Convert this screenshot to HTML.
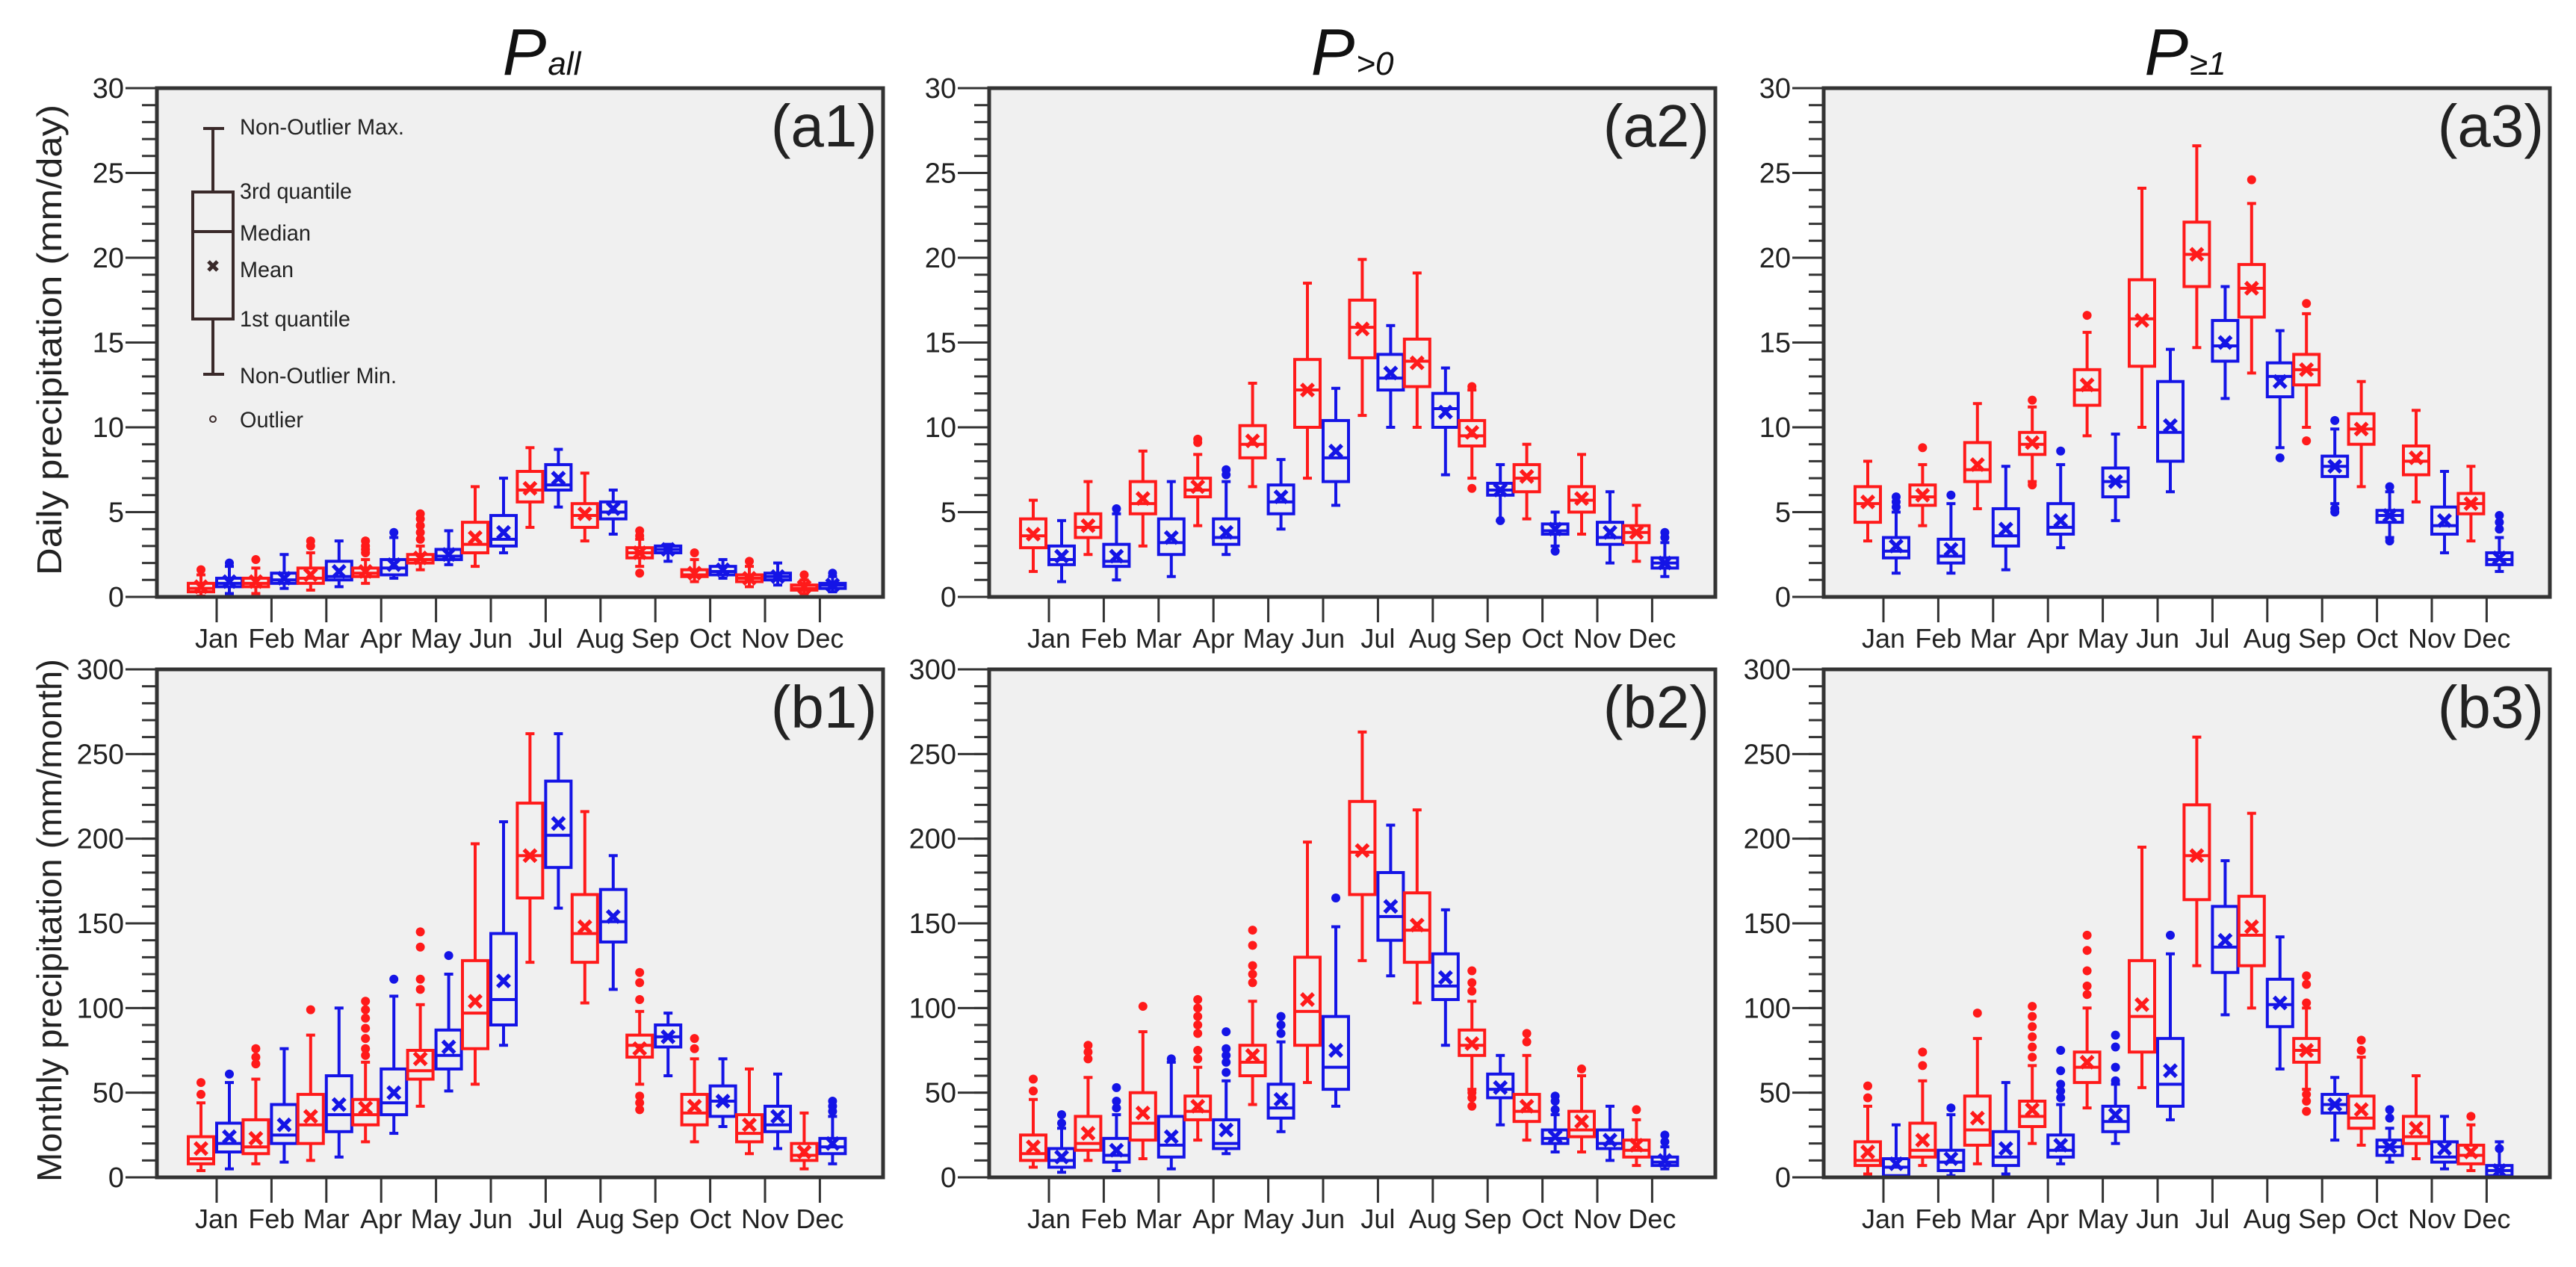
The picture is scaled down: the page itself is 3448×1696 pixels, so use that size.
<!DOCTYPE html>
<html><head><meta charset="utf-8"><style>
html,body{margin:0;padding:0;background:#fff}
svg{display:block}
text{font-family:"Liberation Sans",Arial,sans-serif}
</style></head><body>
<svg id="chart" width="3448" height="1696" viewBox="0 0 3448 1696" xmlns="http://www.w3.org/2000/svg"></svg>
<script>
const months=["Jan","Feb","Mar","Apr","May","Jun","Jul","Aug","Sep","Oct","Nov","Dec"];
const aTicks=[0,5,10,15,20,25,30];
const bTicks=[0,50,100,150,200,250,300];
// stats: [lowWhisker,q1,median,q3,highWhisker,mean]
const a1Red=[[0.05,0.3,0.5,0.8,1.3,0.6],[0.2,0.6,0.8,1.1,1.7,0.9],[0.4,0.8,1.1,1.7,2.6,1.3],[0.8,1.2,1.4,1.7,2.2,1.5],[1.6,2.0,2.2,2.5,3.0,2.3],[1.8,2.6,3.1,4.4,6.5,3.5],[4.1,5.6,6.3,7.4,8.8,6.4],[3.3,4.1,4.8,5.5,7.3,4.9],[1.8,2.3,2.6,2.9,3.4,2.6],[0.9,1.2,1.3,1.6,2.2,1.4],[0.6,0.9,1.1,1.3,1.8,1.1],[0.2,0.4,0.5,0.7,1.0,0.6]];
const a1RedOut=[[1.6],[2.2],[3.0,3.3],[2.6,2.8,3.0,3.3],[3.4,3.8,4.2,4.6,4.9],[],[],[],[1.4,3.6,3.9],[2.6],[2.1],[1.3]];
const a1Blue=[[0.2,0.6,0.8,1.1,1.8,0.9],[0.5,0.8,1.0,1.4,2.5,1.1],[0.6,1.0,1.2,2.1,3.3,1.5],[1.1,1.3,1.7,2.2,3.5,1.9],[1.9,2.2,2.4,2.8,3.9,2.5],[2.6,3.0,3.4,4.8,7.0,3.8],[5.3,6.3,6.6,7.8,8.7,7.0],[3.7,4.6,5.0,5.6,6.3,5.2],[2.1,2.6,2.8,3.0,3.1,2.8],[1.1,1.3,1.5,1.8,2.2,1.6],[0.7,1.0,1.2,1.4,2.0,1.2],[0.3,0.5,0.7,0.8,1.2,0.7]];
const a1BlueOut=[[2.0],[],[],[3.8],[],[],[],[],[],[],[],[1.4]];
const a2Red=[[1.5,2.9,3.6,4.6,5.7,3.7],[2.5,3.5,4.1,4.9,6.8,4.2],[3.0,4.9,5.5,6.8,8.6,5.8],[4.2,5.9,6.3,7.0,8.4,6.5],[6.5,8.2,9.0,10.1,12.6,9.2],[7.0,10.0,12.2,14.0,18.5,12.2],[10.7,14.1,15.9,17.5,19.9,15.8],[10.0,12.4,13.9,15.2,19.1,13.8],[7.0,8.9,9.5,10.4,12.2,9.7],[4.6,6.2,7.0,7.8,9.0,7.1],[3.7,5.0,5.7,6.5,8.4,5.8],[2.1,3.2,3.8,4.2,5.4,3.8]];
const a2RedOut=[[],[],[],[9.1,9.3],[],[],[],[],[12.4,6.4],[],[],[]];
const a2Blue=[[0.9,1.9,2.2,3.0,4.5,2.4],[1.0,1.8,2.1,3.1,4.9,2.4],[1.2,2.5,3.2,4.6,6.8,3.5],[2.5,3.1,3.5,4.6,6.8,3.8],[4.0,4.9,5.6,6.6,8.1,5.9],[5.4,6.8,8.2,10.4,12.3,8.6],[10.0,12.2,12.9,14.3,16.0,13.2],[7.2,10.0,11.1,12.0,13.5,10.9],[4.5,6.0,6.3,6.7,7.8,6.3],[3.0,3.7,3.9,4.3,5.0,4.0],[2.0,3.1,3.5,4.4,6.2,3.8],[1.2,1.7,2.0,2.3,3.2,2.0]];
const a2BlueOut=[[],[5.2],[],[7.2,7.5],[],[],[],[],[4.5],[2.7],[],[3.5,3.8]];
const a3Red=[[3.3,4.4,5.5,6.5,8.0,5.6],[4.2,5.4,5.9,6.6,7.8,6.0],[5.2,6.8,7.5,9.1,11.4,7.8],[6.8,8.4,9.0,9.7,11.2,9.1],[9.5,11.3,12.2,13.4,15.6,12.5],[10.0,13.6,16.4,18.7,24.1,16.3],[14.7,18.3,20.2,22.1,26.6,20.2],[13.2,16.5,18.2,19.6,23.2,18.2],[10.0,12.5,13.4,14.3,16.7,13.4],[6.5,9.0,9.9,10.8,12.7,9.9],[5.6,7.2,8.0,8.9,11.0,8.2],[3.3,4.9,5.5,6.1,7.7,5.5]];
const a3RedOut=[[],[8.8],[],[11.6,6.6],[16.6],[],[],[24.6],[17.3,9.2],[],[],[]];
const a3Blue=[[1.4,2.3,2.7,3.5,5.0,3.0],[1.4,2.0,2.4,3.4,5.5,2.8],[1.6,3.0,3.6,5.2,7.7,4.0],[2.9,3.7,4.1,5.5,7.8,4.5],[4.5,5.9,6.8,7.6,9.6,6.8],[6.2,8.0,9.7,12.7,14.6,10.1],[11.7,13.9,14.8,16.3,18.3,15.0],[8.8,11.8,13.0,13.8,15.7,12.7],[5.5,7.1,7.7,8.3,9.9,7.7],[3.5,4.4,4.8,5.1,6.2,4.8],[2.6,3.7,4.2,5.3,7.4,4.5],[1.5,1.9,2.2,2.6,3.5,2.3]];
const a3BlueOut=[[5.3,5.6,5.9],[6.0],[],[8.6],[],[],[],[8.2],[10.4,5.2,5.0],[6.5,3.3],[],[4.0,4.4,4.8]];
const b1Red=[[4,8,11,24,44,17],[8,14,18,34,58,23],[10,20,31,49,84,36],[21,31,37,46,68,41],[42,58,63,75,102,70],[55,76,97,128,197,104],[127,165,190,221,262,190],[103,127,144,167,216,148],[55,71,78,84,98,76],[21,31,38,49,70,42],[14,21,26,37,64,31],[5,10,13,20,38,15]];
const b1RedOut=[[49,56],[67,71,76],[99],[72,76,82,88,94,99,104],[111,117,136,145],[],[],[],[40,44,48,105,115,121],[76,82],[],[]];
const b1Blue=[[5,15,20,32,56,24],[9,20,25,43,76,31],[12,27,37,60,100,43],[26,37,44,64,107,50],[51,64,72,87,120,77],[78,90,105,144,210,116],[159,183,202,234,262,209],[111,139,151,170,190,154],[60,77,83,90,97,83],[30,36,45,54,70,45],[17,27,31,42,61,36],[8,14,18,23,36,20]];
const b1BlueOut=[[61],[],[],[117],[131],[],[],[],[],[],[],[39,42,45]];
const b2Red=[[6,10,14,25,46,18],[10,16,20,36,59,26],[11,22,32,50,86,38],[22,34,39,48,65,42],[43,60,68,78,104,72],[56,78,98,130,198,105],[128,167,192,222,263,193],[103,127,146,168,217,149],[52,72,78,87,104,79],[22,33,39,49,72,42],[15,24,28,39,60,33],[7,12,16,22,34,19]];
const b2RedOut=[[51,58],[70,74,78],[101],[70,75,85,90,95,100,105],[115,120,125,137,146],[],[],[],[42,47,50,110,115,122],[80,85],[64],[40]];
const b2Blue=[[3,6,10,17,29,12],[4,9,13,23,37,16],[5,12,19,36,68,24],[14,17,20,34,57,28],[27,35,41,55,80,46],[42,52,65,95,148,75],[119,140,154,180,208,160],[78,105,113,132,158,118],[31,47,52,61,72,53],[15,20,23,28,37,24],[10,17,20,28,42,22],[5,7,9,12,18,10]];
const b2BlueOut=[[32,37],[41,45,53],[70],[62,68,72,76,86],[85,90,95],[165],[],[],[],[40,45,48],[],[21,25]];
const b3Red=[[2,7,10,21,42,15],[7,12,16,32,57,22],[8,19,28,48,82,35],[20,30,36,45,66,40],[41,56,65,74,100,68],[53,74,95,128,195,102],[125,164,190,220,260,190],[100,125,143,166,215,148],[52,68,75,82,100,75],[19,29,35,48,71,40],[11,20,24,36,60,29],[4,8,13,19,31,15]];
const b3RedOut=[[47,54],[66,74],[97],[71,77,83,89,95,101],[108,113,122,134,143],[],[],[],[39,45,49,103,114,119],[75,81],[],[36]];
const b3Blue=[[0,1,6,11,31,8],[1,4,9,16,37,11],[2,7,12,27,56,17],[8,12,16,25,43,19],[20,27,33,42,55,37],[34,42,55,82,132,63],[96,121,136,160,187,140],[64,89,102,117,142,103],[22,38,43,49,59,43],[9,13,18,22,29,18],[5,9,12,21,36,17],[0,1,4,7,21,4]];
const b3BlueOut=[[],[41],[],[47,51,55,63,75],[57,65,77,84],[143],[],[],[],[35,40],[],[17]];

const NS="http://www.w3.org/2000/svg";
const svg=document.getElementById('chart');
function mk(tag,attrs,parent,txt){const e=document.createElementNS(NS,tag);for(const k in attrs)e.setAttribute(k,attrs[k]);if(txt!==undefined)e.textContent=txt;(parent||svg).appendChild(e);return e;}

const lefts=[210,1324,2441], W=972;
const tops=[118,896], bots=[799,1576];
const RED="#ff1a1a", BLUE="#1414e6";

const panels=[
 {id:"a1",r:0,c:0,max:30,ticks:aTicks,minor:1,red:a1Red,ro:a1RedOut,blue:a1Blue,bo:a1BlueOut},
 {id:"a2",r:0,c:1,max:30,ticks:aTicks,minor:1,red:a2Red,ro:a2RedOut,blue:a2Blue,bo:a2BlueOut},
 {id:"a3",r:0,c:2,max:30,ticks:aTicks,minor:1,red:a3Red,ro:a3RedOut,blue:a3Blue,bo:a3BlueOut},
 {id:"b1",r:1,c:0,max:300,ticks:bTicks,minor:10,red:b1Red,ro:b1RedOut,blue:b1Blue,bo:b1BlueOut},
 {id:"b2",r:1,c:1,max:300,ticks:bTicks,minor:10,red:b2Red,ro:b2RedOut,blue:b2Blue,bo:b2BlueOut},
 {id:"b3",r:1,c:2,max:300,ticks:bTicks,minor:10,red:b3Red,ro:b3RedOut,blue:b3Blue,bo:b3BlueOut}
];

function drawBox(g,cx,s,out,y,color,bw){
  const [lo,q1,md,q3,hi,mn]=s;
  const sw=4;
  let e=mk('line',{x1:cx,x2:cx,y1:y(hi),y2:y(q3),stroke:color,'stroke-width':sw},g);
  
  e=mk('line',{x1:cx,x2:cx,y1:y(q1),y2:y(lo),stroke:color,'stroke-width':sw},g);
  
  mk('line',{x1:cx-6,x2:cx+6,y1:y(hi),y2:y(hi),stroke:color,'stroke-width':sw},g);
  mk('line',{x1:cx-6,x2:cx+6,y1:y(lo),y2:y(lo),stroke:color,'stroke-width':sw},g);
  e=mk('rect',{x:cx-bw/2,y:y(q3),width:bw,height:Math.max(2,y(q1)-y(q3)),fill:'none',stroke:color,'stroke-width':sw},g);
  
  e=mk('line',{x1:cx-bw/2,x2:cx+bw/2,y1:y(md),y2:y(md),stroke:color,'stroke-width':sw},g);
  
  const my=y(mn),d=8;
  e=mk('path',{d:`M${cx-d},${my-d}L${cx+d},${my+d}M${cx+d},${my-d}L${cx-d},${my+d}`,stroke:color,'stroke-width':5.5,fill:'none'},g);
  
  out.forEach(v=>{const o=mk('circle',{cx:cx,cy:y(v),r:6,fill:color},g);
    });
}

panels.forEach(p=>{
  const L=lefts[p.c],T=tops[p.r],B=bots[p.r],R=L+W;
  const g=mk('g',{});
  
  const y=v=>B-(v/p.max)*(B-T);
  const bg=mk('rect',{x:L,y:T,width:W,height:B-T,fill:'#f0f0f0'},g);
  
  for(let v=0;v<=p.max+1e-9;v+=p.minor){mk('line',{x1:L-20,x2:L,y1:y(v),y2:y(v),stroke:'#333','stroke-width':3},g);}
  p.ticks.forEach(v=>{
    mk('line',{x1:L-42,x2:L,y1:y(v),y2:y(v),stroke:'#333','stroke-width':3},g);
    const t=mk('text',{x:L-44,y:y(v)+13,'text-anchor':'end','font-size':38,fill:'#222'},g,String(v));
    
  });
  const tx=i=>L+80+i*73.4;
  months.forEach((m,i)=>{
    mk('line',{x1:tx(i),x2:tx(i),y1:B,y2:B+34,stroke:'#333','stroke-width':3},g);
    const t=mk('text',{x:tx(i),y:B+68,'text-anchor':'middle','font-size':36,fill:'#222'},g,m);
    
  });
  months.forEach((m,i)=>{
    drawBox(g,tx(i)-21,p.red[i],p.ro[i],y,RED,34);
    drawBox(g,tx(i)+17,p.blue[i],p.bo[i],y,BLUE,34);
  });
  const fr=mk('rect',{x:L,y:T,width:W,height:B-T,fill:'none',stroke:'#333','stroke-width':5},g);
  
  const lab=mk('text',{x:R-8,y:T+78,'text-anchor':'end','font-size':80,fill:'#222'},g,'('+p.id+')');
  
});

const titles=[["all",725],[">0",1810],["≥1",2925]];
titles.forEach((t,i)=>{
  const e=mk('text',{x:t[1],y:100,'text-anchor':'middle','font-style':'italic',fill:'#111'});
  
  mk('tspan',{'font-size':88},e,'P');
  mk('tspan',{'font-size':44,dx:2},e,t[0]);
});
let yt=mk('text',{x:0,y:0,transform:'translate(82,455) rotate(-90)','text-anchor':'middle','font-size':46,fill:'#222',textLength:630,lengthAdjust:'spacingAndGlyphs'},svg,'Daily precipitation (mm/day)');

yt=mk('text',{x:0,y:0,transform:'translate(82,1232) rotate(-90)','text-anchor':'middle','font-size':46,fill:'#222',textLength:700,lengthAdjust:'spacingAndGlyphs'},svg,'Monthly precipitation (mm/month)');


const lg=mk('g',{});

const lc="#3a2a2a";
mk('line',{x1:285,x2:285,y1:172,y2:257,stroke:lc,'stroke-width':4},lg);
mk('line',{x1:285,x2:285,y1:427,y2:501,stroke:lc,'stroke-width':4},lg);
mk('line',{x1:272,x2:300,y1:172,y2:172,stroke:lc,'stroke-width':4},lg);
mk('line',{x1:272,x2:300,y1:501,y2:501,stroke:lc,'stroke-width':4},lg);
mk('rect',{x:258,y:257,width:54,height:170,fill:'none',stroke:lc,'stroke-width':4},lg);
mk('line',{x1:258,x2:312,y1:310,y2:310,stroke:lc,'stroke-width':4},lg);
mk('path',{d:'M279,350L291,362M291,350L279,362',stroke:lc,'stroke-width':5},lg);
mk('circle',{cx:285,cy:561,r:4,fill:'none',stroke:lc,'stroke-width':2},lg);
[["Non-Outlier Max.",180,220],["3rd quantile",266,150],["Median",322,95],["Mean",371,72],["1st quantile",437,148],["Non-Outlier Min.",513,210],["Outlier",572,85]].forEach(a=>{
  const t=mk('text',{x:321,y:a[1],'font-size':30,fill:'#222',textLength:a[2],lengthAdjust:'spacingAndGlyphs'},lg,a[0]);
  
});
</script>
</body></html>
